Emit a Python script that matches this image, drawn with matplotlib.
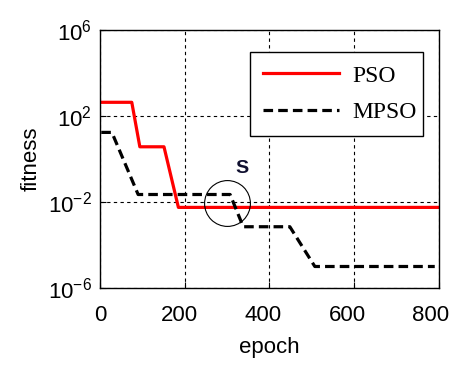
import numpy as np
from matplotlib import pyplot as plt
from matplotlib.transforms import ScaledTranslation

plt.rcParams['font.family'] = ['Liberation Sans', 'DejaVu Sans']

# step curves (epoch, log10 fitness)
pso_epoch = [0, 75, 94, 151, 185, 800]
pso_log = [2.64, 2.64, 0.57, 0.57, -2.25, -2.25]

mpso_epoch = [3, 28, 90, 307, 338, 448, 507, 790]
mpso_log = [1.24, 1.24, -1.65, -1.65, -3.15, -3.15, -5.0, -5.0]

xticks = [0, 200, 400, 600, 800]
yticks = [1e-6, 1e-2, 1e2, 1e6]

fig = plt.figure(figsize=(4.56, 3.67), dpi=100)
ax = fig.add_axes([0.2193, 0.2153, 0.7434, 0.7027])

ax.plot(pso_epoch, np.power(10.0, pso_log), color='red', lw=2.3, label='PSO')
ax.plot(mpso_epoch, np.power(10.0, mpso_log), color='black', lw=2.3,
        dashes=(3.0, 1.6), label='MPSO')

ax.set_yscale('log')
ax.set_xlim(0, 800)
ax.set_ylim(1e-6, 1e6)
ax.set_xticks(xticks)
ax.set_yticks(yticks)
ax.minorticks_off()
ax.grid(True, color='black', ls=(0, (3, 3)), lw=0.8)
ax.tick_params(direction='in', length=4, width=0.8, labelsize=16)
ax.tick_params(axis='x', pad=12)
ax.tick_params(axis='y', pad=6)
for s in ax.spines.values():
    s.set_linewidth(1.0)

# x labels sit a little left of their ticks in the reference
shifts = [0, -5, -6, -7, -8]
for lab, dx in zip(ax.get_xticklabels(), shifts):
    lab.set_transform(lab.get_transform() + ScaledTranslation(dx / 100, 0, fig.dpi_scale_trans))

ax.set_xlabel('epoch', fontsize=16, labelpad=8)
ax.set_ylabel('fitness', fontsize=16, labelpad=4)

# circle marking the crossing point S
ax.plot(299, 10 ** -2.06, 'o', mfc='none', mec='black', ms=33, mew=0.8)
ax.text(334, 10 ** -0.42, 'S', fontsize=14, fontweight='bold', ha='center', va='center',
        color='#101030')

leg = ax.legend(loc='upper left', bbox_to_anchor=(0.4425, 0.8147, 0.5103, 0.1),
                mode='expand', fancybox=False,
                framealpha=1, edgecolor='black', handlelength=3.2, handletextpad=0.6,
                prop={'family': 'Liberation Serif', 'size': 17}, borderpad=0.55,
                labelspacing=0.65, borderaxespad=0)
leg.get_frame().set_linewidth(1.0)

fig.savefig('out.png')
